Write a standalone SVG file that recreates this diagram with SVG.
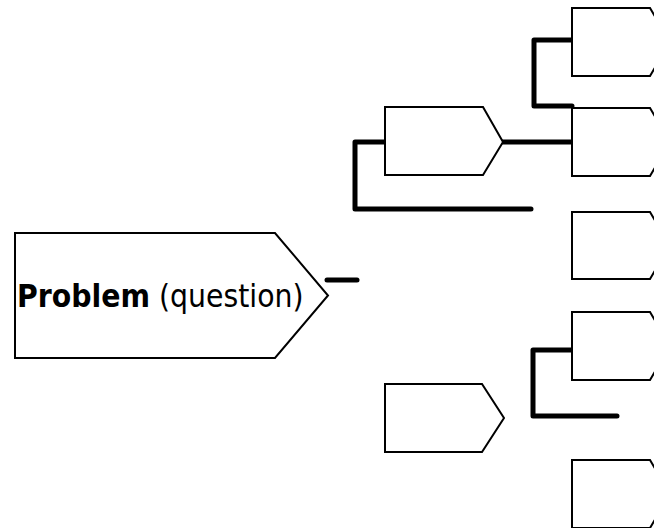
<svg xmlns="http://www.w3.org/2000/svg" width="654" height="528" viewBox="0 0 654 528">
  <style>
    .node { fill: #ffffff; stroke: #000000; stroke-width: 2; stroke-linejoin: miter; }
    .link { fill: none; stroke: #000000; stroke-width: 5; stroke-linecap: round; stroke-linejoin: round; }
    .label { font-family: "DejaVu Sans Condensed", "DejaVu Sans", sans-serif; font-size: 31.5px; fill: #000000; }
    .label .strong { font-weight: bold; }
  </style>
  <rect width="654" height="528" fill="#ffffff"/>

  <!-- connectors -->
  <g id="connectors">
    <path class="link" d="M327 280 H357" stroke-linecap="butt"/>
    <path class="link" d="M385 142 H355 V209 H531"/>
    <path class="link" d="M503 142 H572"/>
    <path class="link" d="M572 40 H534 V106 H572"/>
    <path class="link" d="M572 350 H533 V416 H617"/>
  </g>

  <!-- root problem -->
  <g id="problem">
    <path class="node" d="M15 233 H275 L328 295.5 L275 358 H15 Z"/>
    <text class="label" x="17" y="307"><tspan class="strong">Problem</tspan> (question)</text>
  </g>

  <!-- second level -->
  <g id="cause-a">
    <path class="node" d="M385 107 H483 L503 142 L483 175 H385 Z"/>
  </g>
  <g id="cause-b">
    <path class="node" d="M385 384 H482 L504 418 L482 452 H385 Z"/>
  </g>

  <!-- third level -->
  <g id="detail-1">
    <path class="node" d="M572 8 H650 L670 42 L650 76 H572 Z"/>
  </g>
  <g id="detail-2">
    <path class="node" d="M572 108 H650 L670 142 L650 176 H572 Z"/>
  </g>
  <g id="detail-3">
    <path class="node" d="M572 212 H650 L670 245.5 L650 279 H572 Z"/>
  </g>
  <g id="detail-4">
    <path class="node" d="M572 312 H650 L670 346 L650 380 H572 Z"/>
  </g>
  <g id="detail-5">
    <path class="node" d="M572 460 H650 L670 494 L650 528 H572 Z"/>
  </g>
</svg>
